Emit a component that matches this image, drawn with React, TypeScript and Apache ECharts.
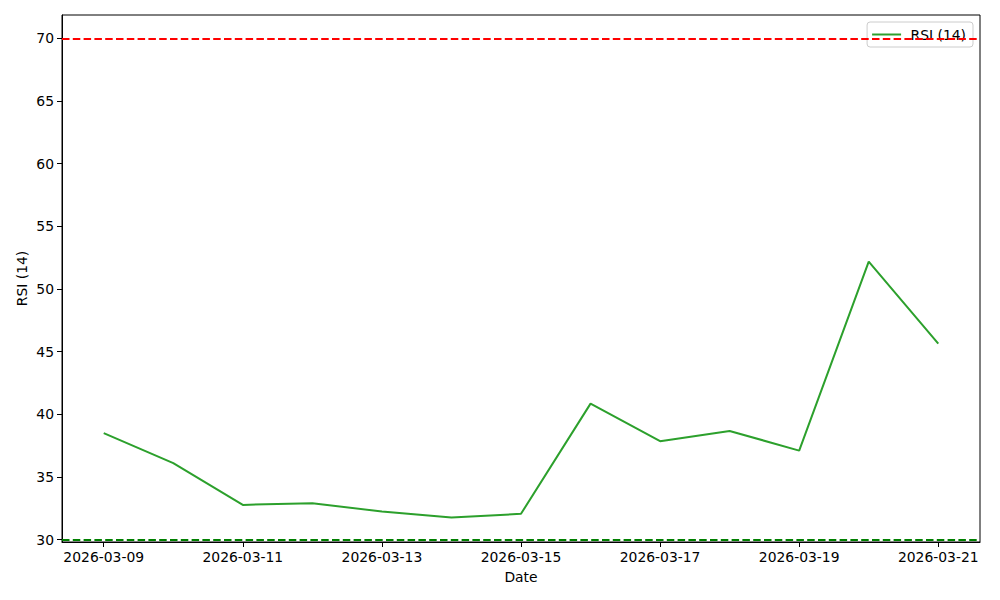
import React, { useEffect, useRef } from "react";
import * as echarts from "echarts";

const dates = [
  "2026-03-09", "2026-03-10", "2026-03-11", "2026-03-12", "2026-03-13",
  "2026-03-14", "2026-03-15", "2026-03-16", "2026-03-17", "2026-03-18",
  "2026-03-19", "2026-03-20", "2026-03-21",
];
const rsi = [38.5, 36.11, 32.78, 32.92, 32.25, 31.77, 32.07, 40.86, 37.86, 38.68, 37.11, 52.18, 45.65];
const overbought = 70;
const oversold = 30;
const yTicks = [30, 35, 40, 45, 50, 55, 60, 65, 70];
const xTickIdx = [0, 2, 4, 6, 8, 10, 12];

export default function App() {
  const ref = useRef<HTMLDivElement>(null);
  useEffect(() => {
    if (!ref.current) return;
    const chart = echarts.init(ref.current, undefined, { renderer: "svg" });
    const font = "DejaVu Sans";
    const fs = 13.9;
    chart.setOption({
      animation: false,
      backgroundColor: "#fff",
      textStyle: { fontFamily: font },
      grid: {
        left: 62, right: 20, top: 15, bottom: 58,
        show: true, borderColor: "#000", borderWidth: 1, containLabel: false,
      },
      legend: {
        right: 27, top: 22,
        padding: [5, 7, 5, 5],
        itemWidth: 29, itemHeight: 2, itemGap: 8,
        backgroundColor: "rgba(255,255,255,0.8)",
        borderColor: "#ccc", borderWidth: 1, borderRadius: 3,
        textStyle: { fontFamily: font, fontSize: fs, color: "#000", lineHeight: 15 },
        formatter: (n: string) => " " + n,
        data: [{ name: "RSI (14)", icon: "rect" }],
      },
      xAxis: {
        type: "value",
        min: -0.6, max: 12.6,
        name: "Date", nameLocation: "middle", nameGap: 28, nameMoveOverlap: false,
        nameTextStyle: { fontFamily: font, fontSize: fs, color: "#000" },
        axisLine: { show: true, onZero: false, lineStyle: { color: "#000", width: 1 } },
        axisTick: { show: true, inside: false, length: 5, lineStyle: { color: "#000" }, customValues: xTickIdx },
        axisLabel: {
          show: true, color: "#000", fontFamily: font, fontSize: fs, margin: 8,
          customValues: xTickIdx,
          formatter: (v: number) => dates[Math.round(v)] ?? "",
        },
        splitLine: { show: false },
      },
      yAxis: {
        type: "value",
        min: 29.82, max: 71.86,
        name: "RSI (14)", nameLocation: "middle", nameGap: 33, nameRotate: 90, nameMoveOverlap: false,
        nameTextStyle: { fontFamily: font, fontSize: fs, color: "#000" },
        axisLine: { show: true, onZero: false, lineStyle: { color: "#000", width: 1 } },
        axisTick: { show: true, inside: false, length: 5, lineStyle: { color: "#000" }, customValues: yTicks },
        axisLabel: {
          show: true, color: "#000", fontFamily: font, fontSize: fs, margin: 8,
          customValues: yTicks,
        },
        splitLine: { show: false },
      },
      series: [
        {
          name: "RSI (14)",
          type: "line",
          data: rsi.map((v, i) => [i, v]),
          symbol: "none",
          lineStyle: { color: "#2ca02c", width: 2 },
          itemStyle: { color: "#2ca02c" },
          z: 3,
          markLine: {
            silent: true,
            symbol: ["none", "none"],
            label: { show: false },
            data: [
              { yAxis: overbought, lineStyle: { color: "#ff0000", type: [7.5, 3.3], width: 2 } },
              { yAxis: oversold, lineStyle: { color: "#008000", type: [7.5, 3.3], width: 2 } },
            ],
          },
        },
      ],
    });
    return () => chart.dispose();
  }, []);
  return (
    <div
      ref={ref}
      style={{ position: "fixed", left: 0, top: 0, width: 1000, height: 600 }}
    />
  );
}
